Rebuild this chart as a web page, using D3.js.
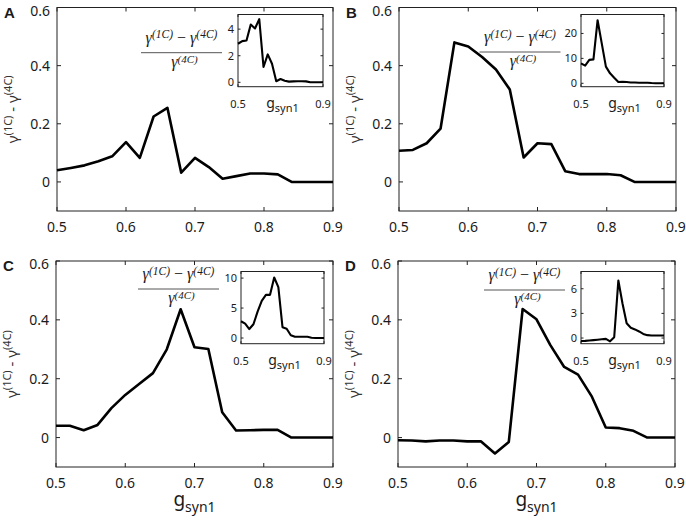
<!DOCTYPE html>
<html>
<head>
<meta charset="utf-8">
<script src="https://cdn.jsdelivr.net/npm/d3@7"></script>
<style>
  body { margin: 0; background: #fff; }
  svg { display: block; }
  text { font-family: "Noto Sans", "Liberation Sans", sans-serif; fill: #1a1a1a; }
  .frac { font-family: "Liberation Serif", "DejaVu Serif", serif; font-style: italic; }
</style>
</head>
<body>
<div id="chart"></div>
<script>
// x values shared by every curve
var gsyn = [0.50, 0.52, 0.54, 0.56, 0.58, 0.60, 0.62, 0.64, 0.66, 0.68, 0.70,
            0.72, 0.74, 0.76, 0.78, 0.80, 0.82, 0.84, 0.86, 0.88, 0.90];

// gamma(1C) - gamma(4C), main panels
var diffA = [0.040, 0.048, 0.057, 0.071, 0.088, 0.137, 0.083, 0.225, 0.255, 0.032, 0.083,
             0.051, 0.011, 0.020, 0.029, 0.029, 0.026, 0.000, 0.000, 0.000, 0.000];
var diffB = [0.107, 0.110, 0.133, 0.183, 0.480, 0.466, 0.430, 0.387, 0.318, 0.084, 0.133,
             0.130, 0.037, 0.027, 0.027, 0.027, 0.023, 0.000, 0.000, 0.000, 0.000];
var diffC = [0.040, 0.040, 0.025, 0.043, 0.100, 0.145, 0.182, 0.219, 0.300, 0.436, 0.307,
             0.301, 0.086, 0.024, 0.025, 0.026, 0.026, 0.000, 0.000, 0.000, 0.000];
var diffD = [-0.009, -0.010, -0.013, -0.010, -0.010, -0.013, -0.013, -0.054, -0.015, 0.437, 0.402,
             0.314, 0.240, 0.214, 0.139, 0.034, 0.032, 0.023, 0.000, 0.000, 0.000];

// (gamma(1C) - gamma(4C)) / gamma(4C), insets
var ratioA = [2.9, 3.1, 3.15, 4.35, 4.05, 4.75, 1.15, 2.1, 1.4, 0.08, 0.25,
              0.12, 0.05, 0.07, 0.08, 0.08, 0.07, 0.0, 0.0, 0.0, 0.0];
var ratioB = [8.0, 7.1, 9.4, 9.6, 25.3, 16.0, 6.7, 4.0, 2.2, 0.5, 0.6,
              0.5, 0.35, 0.3, 0.25, 0.25, 0.2, 0.1, 0.05, 0.05, 0.05];
var ratioC = [2.8, 2.4, 1.5, 2.3, 4.4, 6.2, 7.2, 7.2, 10.1, 8.5, 1.8,
              1.55, 0.45, 0.2, 0.2, 0.2, 0.2, 0.05, 0.0, 0.0, 0.0];
var ratioD = [-0.36, -0.35, -0.3, -0.25, -0.2, -0.15, -0.1, -0.4, 0.1, 7.0, 4.2,
              1.8, 1.25, 1.05, 0.8, 0.5, 0.35, 0.3, 0.3, 0.3, 0.3];

var mainXTicks = [0.5, 0.6, 0.7, 0.8, 0.9];
var mainYTicks = [0, 0.2, 0.4, 0.6];
var insetXTicks = [0.5, 0.9];
var insetYTicksA = [0, 2, 4];
var insetYTicksB = [0, 10, 20];
var insetYTicksC = [0, 5, 10];
var insetYTicksD = [0, 3, 6];
var letters = ["A", "B", "C", "D"];

var W = 686, H = 520;
var svg = d3.select("#chart").append("svg").attr("width", W).attr("height", H);

var panels = [
  { letter: letters[0], diff: diffA, ratio: ratioA, yt: insetYTicksA, iy: [-0.33, 5.1],
    box: [57, 333, 7.5, 211], inset: [238, 323, 14.5, 86.7], frac: [181.5, 52.7], bottom: false },
  { letter: letters[1], diff: diffB, ratio: ratioB, yt: insetYTicksB, iy: [-1.36, 27.6],
    box: [399, 676, 7.5, 211], inset: [581, 664, 14.5, 86.7], frac: [520, 52], bottom: false },
  { letter: letters[2], diff: diffC, ratio: ratioC, yt: insetYTicksC, iy: [-0.95, 11.1],
    box: [56, 333, 261, 467], inset: [241, 324, 271.5, 343.7], frac: [178.5, 289], bottom: true },
  { letter: letters[3], diff: diffD, ratio: ratioD, yt: insetYTicksD, iy: [-0.69, 8.1],
    box: [398, 675, 261, 467], inset: [581, 664, 271.5, 343.7], frac: [524.5, 290], bottom: true }
];

function boxAxes(g, x, y, xt, yt, tick, fmtX, fmtY, fs, ylabOff, xlabOff) {
  var x0 = x.range()[0], x1 = x.range()[1], y0 = y.range()[1], y1 = y.range()[0];
  g.append("rect").attr("x", x0).attr("y", y0).attr("width", x1 - x0).attr("height", y1 - y0)
    .attr("fill", "none").attr("stroke", "#222").attr("stroke-width", 1);
  xt.forEach(function (t) {
    g.append("line").attr("x1", x(t)).attr("x2", x(t)).attr("y1", y1).attr("y2", y1 - tick).attr("stroke", "#222");
    g.append("line").attr("x1", x(t)).attr("x2", x(t)).attr("y1", y0).attr("y2", y0 + tick).attr("stroke", "#222");
    g.append("text").attr("x", x(t)).attr("y", y1 + xlabOff).attr("text-anchor", "middle")
      .style("font-size", fs + "px").text(fmtX(t));
  });
  yt.forEach(function (t) {
    g.append("line").attr("x1", x0).attr("x2", x0 + tick).attr("y1", y(t)).attr("y2", y(t)).attr("stroke", "#222");
    g.append("line").attr("x1", x1).attr("x2", x1 - tick).attr("y1", y(t)).attr("y2", y(t)).attr("stroke", "#222");
    // keep the top label inside the page, as in the reference
    var ly = Math.max(y(t), y0 + 3);
    g.append("text").attr("x", x0 - ylabOff).attr("y", ly).attr("dy", "0.36em").attr("text-anchor", "end")
      .style("font-size", fs + "px").text(fmtY(t));
  });
}

function gLabel(g, cx, y, big, small) {
  var t = g.append("text").attr("x", cx).attr("y", y).attr("text-anchor", "middle");
  t.append("tspan").style("font-size", big + "px").text("g");
  t.append("tspan").attr("dy", big * 0.3).style("font-size", small + "px").text("syn1");
}

panels.forEach(function (p) {
  var g = svg.append("g");
  var x = d3.scaleLinear().domain([0.5, 0.9]).range([p.box[0], p.box[1]]);
  var y = d3.scaleLinear().domain([-0.1, 0.6]).range([p.box[3], p.box[2]]);

  boxAxes(g, x, y, mainXTicks, mainYTicks, 4, d3.format(".1f"),
    function (d) { return d === 0 ? "0" : d3.format(".1f")(d); }, 14, 7, 21);

  g.append("path").datum(gsyn)
    .attr("fill", "none").attr("stroke", "#000").attr("stroke-width", 2.6).attr("stroke-linejoin", "round")
    .attr("d", d3.line().x(function (d) { return x(d); }).y(function (d, i) { return y(p.diff[i]); }));

  // panel letter
  g.append("text").attr("x", p.box[0] - 53).attr("y", p.box[2] + 10)
    .style("font-size", "15px").style("font-weight", "bold").style("font-family", "Liberation Sans, sans-serif")
    .text(p.letter);

  // y axis label
  var yl = g.append("text").attr("transform", "translate(" + (p.box[0] - 39) + "," + ((p.box[2] + p.box[3]) / 2) + ") rotate(-90)")
    .attr("text-anchor", "middle").style("font-size", "15px").style("fill", "#333");
  yl.append("tspan").text("\u03b3");
  yl.append("tspan").attr("dy", -6).style("font-size", "11px").text("(1C)");
  yl.append("tspan").attr("dy", 6).text(" - \u03b3");
  yl.append("tspan").attr("dy", -6).style("font-size", "11px").text("(4C)");

  if (p.bottom) gLabel(g, (p.box[0] + p.box[1]) / 2, p.box[3] + 39, 19, 14);

  // inset
  var ix = d3.scaleLinear().domain([0.5, 0.9]).range([p.inset[0], p.inset[1]]);
  var iy = d3.scaleLinear().domain(p.iy).range([p.inset[3], p.inset[2]]);
  g.append("rect").attr("x", p.inset[0]).attr("y", p.inset[2]).attr("width", p.inset[1] - p.inset[0])
    .attr("height", p.inset[3] - p.inset[2]).attr("fill", "#fff");
  boxAxes(g, ix, iy, insetXTicks, p.yt, 2.5, d3.format(".1f"), d3.format("d"), 11, 4, 21);
  g.append("path").datum(gsyn)
    .attr("fill", "none").attr("stroke", "#000").attr("stroke-width", 2.1).attr("stroke-linejoin", "round")
    .attr("d", d3.line().x(function (d) { return ix(d); }).y(function (d, i) { return iy(p.ratio[i]); }));
  gLabel(g, (p.inset[0] + p.inset[1]) / 2 + 2, p.inset[3] + 21, 14, 11);

  // fraction label
  var fx = p.frac[0], fy = p.frac[1];
  g.append("line").attr("x1", fx - 40.5).attr("x2", fx + 40.5).attr("y1", fy).attr("y2", fy)
    .attr("stroke", "#555").attr("stroke-width", 1);
  var num = g.append("text").attr("class", "frac").attr("x", fx).attr("y", fy - 10).attr("text-anchor", "middle")
    .style("font-size", "16px");
  num.append("tspan").text("\u03b3");
  num.append("tspan").attr("dy", -4.5).style("font-size", "11.5px").text("(1C)");
  num.append("tspan").attr("dy", 4.5).style("font-style", "normal").text(" \u2212 ");
  num.append("tspan").text("\u03b3");
  num.append("tspan").attr("dy", -4.5).style("font-size", "11.5px").text("(4C)");
  var den = g.append("text").attr("class", "frac").attr("x", fx + 3).attr("y", fy + 14).attr("text-anchor", "middle")
    .style("font-size", "16px");
  den.append("tspan").text("\u03b3");
  den.append("tspan").attr("dy", -4).style("font-size", "11px").text("(4C)");
});
</script>
</body>
</html>
